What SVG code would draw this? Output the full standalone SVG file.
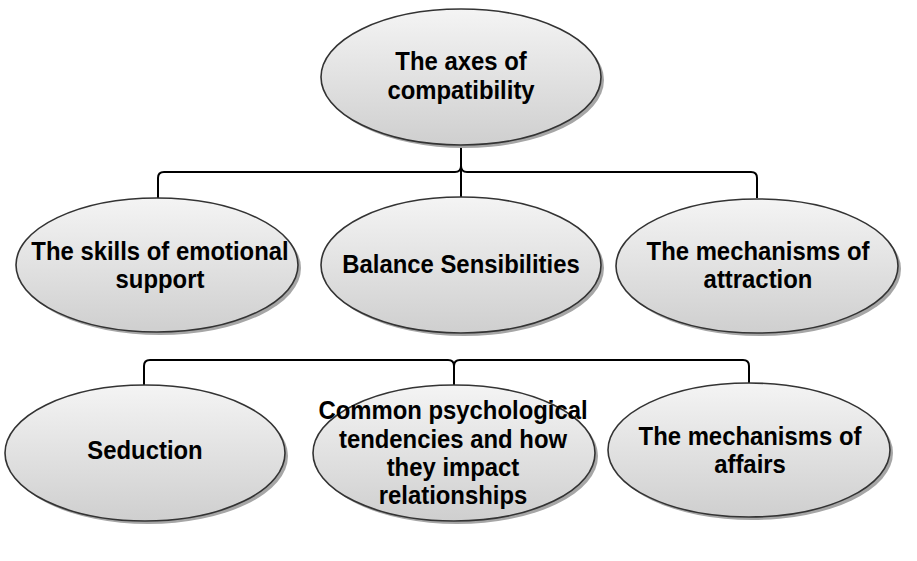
<svg xmlns="http://www.w3.org/2000/svg" width="917" height="561" viewBox="0 0 917 561">
<defs>
<linearGradient id="g" x1="0" y1="0" x2="0" y2="1">
<stop offset="0" stop-color="#f4f4f4"/>
<stop offset="1" stop-color="#cfcfcf"/>
</linearGradient>
<style>
.sh{fill:#a6a6a6;}
.el{fill:url(#g);stroke:#333;stroke-width:1.6;}
.t{font-family:"Liberation Sans",Arial,sans-serif;font-weight:bold;font-size:25px;fill:#000;text-anchor:middle;}
.c{fill:none;stroke:#000;stroke-width:2;}
</style>
</defs>
<rect width="917" height="561" fill="#fff"/>
<g id="connectors">
<path class="c" d="M461,144 V197"/>
<path class="c" d="M461,166 Q461,172 455,172 H164 Q158,172 158,178 V198"/>
<path class="c" d="M461,166 Q461,172 467,172 H751 Q757,172 757,178 V198"/>
<path class="c" d="M454,385 V366 Q454,360 448,360 H150 Q144,360 144,366 V385"/>
<path class="c" d="M454,366 Q454,360 460,360 H743 Q749,360 749,366 V384"/>
</g>
<g id="n0">
<ellipse class="sh" cx="464" cy="80" rx="140" ry="68"/>
<ellipse class="el" cx="461" cy="77" rx="140" ry="68"/>
<text class="t" transform="translate(461,70) scale(0.955,1)">The axes of</text>
<text class="t" transform="translate(461,99) scale(0.955,1)">compatibility</text>
</g>
<g id="n1">
<ellipse class="sh" cx="160" cy="268" rx="141" ry="67"/>
<ellipse class="el" cx="157" cy="265" rx="141" ry="67"/>
<text class="t" transform="translate(160,260) scale(0.955,1)">The skills of emotional</text>
<text class="t" transform="translate(160,288) scale(0.955,1)">support</text>
</g>
<g id="n2">
<ellipse class="sh" cx="464" cy="268" rx="140" ry="68"/>
<ellipse class="el" cx="461" cy="265" rx="140" ry="68"/>
<text class="t" transform="translate(461,273) scale(0.955,1)">Balance Sensibilities</text>
</g>
<g id="n3">
<ellipse class="sh" cx="760" cy="269" rx="141" ry="67"/>
<ellipse class="el" cx="757" cy="266" rx="141" ry="67"/>
<text class="t" transform="translate(758,260) scale(0.955,1)">The mechanisms of</text>
<text class="t" transform="translate(758,288) scale(0.955,1)">attraction</text>
</g>
<g id="n4">
<ellipse class="sh" cx="148" cy="456" rx="140" ry="68"/>
<ellipse class="el" cx="145" cy="453" rx="140" ry="68"/>
<text class="t" transform="translate(145,459) scale(0.955,1)">Seduction</text>
</g>
<g id="n5">
<ellipse class="sh" cx="457" cy="456" rx="141" ry="68"/>
<ellipse class="el" cx="454" cy="453" rx="141" ry="68"/>
<text class="t" transform="translate(453,419) scale(0.955,1)">Common psychological</text>
<text class="t" transform="translate(453,448) scale(0.955,1)">tendencies and how</text>
<text class="t" transform="translate(453,476) scale(0.955,1)">they impact</text>
<text class="t" transform="translate(453,504) scale(0.955,1)">relationships</text>
</g>
<g id="n6">
<ellipse class="sh" cx="752" cy="453" rx="141" ry="67"/>
<ellipse class="el" cx="749" cy="450" rx="141" ry="67"/>
<text class="t" transform="translate(750,445) scale(0.955,1)">The mechanisms of</text>
<text class="t" transform="translate(750,473) scale(0.955,1)">affairs</text>
</g>
</svg>
